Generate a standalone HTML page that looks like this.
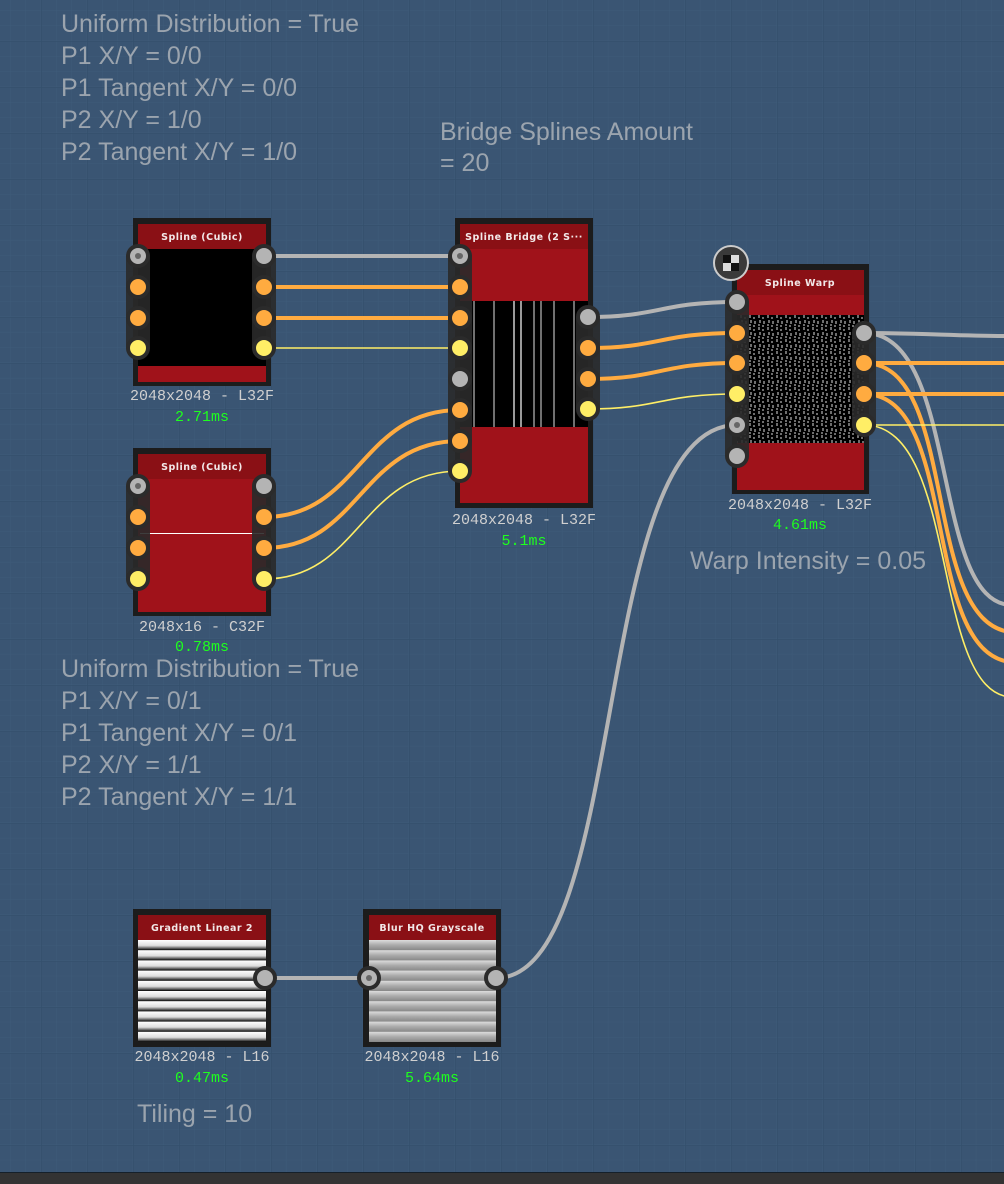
<!DOCTYPE html>
<html><head><meta charset="utf-8"><style>
html,body{margin:0;padding:0;background:#3a5573;}
svg{display:block}
.ann{font-family:"Liberation Sans",sans-serif;font-size:25px;fill:#9ba4ae;}
.ttl{font-family:"DejaVu Sans",sans-serif;font-size:9.5px;font-weight:bold;fill:#f2e8e8;text-anchor:middle;letter-spacing:0.5px}
.sz{font-family:"Liberation Mono",monospace;font-size:15px;fill:#d0d0d0;text-anchor:middle}
.ms{font-family:"Liberation Mono",monospace;font-size:15px;fill:#1eff1e;text-anchor:middle}
</style></head><body>
<svg width="1004" height="1184" viewBox="0 0 1004 1184" xmlns="http://www.w3.org/2000/svg">
<defs>
<pattern id="minor" width="15.33" height="15.33" patternUnits="userSpaceOnUse" x="10" y="10">
<path d="M0 0H15.33M0 0V15.33" stroke="#3e5b79" stroke-width="1" fill="none"/>
</pattern>
<pattern id="major" width="46" height="46" patternUnits="userSpaceOnUse" x="41" y="41">
<path d="M0 0H46M0 0V46" stroke="#34506d" stroke-width="1.5" fill="none"/>
</pattern>
<pattern id="stripes" width="10" height="10.2" patternUnits="userSpaceOnUse" y="940">
<linearGradient id="sg" x1="0" y1="0" x2="0" y2="1"><stop offset="0" stop-color="#fff"/><stop offset="0.55" stop-color="#ddd"/><stop offset="0.8" stop-color="#666"/><stop offset="1" stop-color="#000"/></linearGradient>
<rect width="10" height="10.2" fill="url(#sg)"/>
</pattern>
<pattern id="blur" width="10" height="10.2" patternUnits="userSpaceOnUse" y="940">
<linearGradient id="bg2" x1="0" y1="0" x2="0" y2="1"><stop offset="0" stop-color="#ddd"/><stop offset="0.5" stop-color="#aaa"/><stop offset="1" stop-color="#888"/></linearGradient>
<rect width="10" height="10.2" fill="url(#bg2)"/>
</pattern>
<pattern id="noise" width="9" height="12" patternUnits="userSpaceOnUse" x="748" y="315">
<rect width="9" height="12" fill="#000"/>
<path d="M2 0v3M3 5v3M2 9v2M6 2v2M7 6v3M6 10v2" stroke="#ddd" stroke-width="1"/>
</pattern>
</defs>
<rect width="1004" height="1184" fill="#3a5573"/>
<rect width="1004" height="1173" fill="url(#minor)"/>
<rect width="1004" height="1173" fill="url(#major)"/>
<rect y="1172" width="1004" height="12" fill="#333"/>
<rect y="1172" width="1004" height="1" fill="#15202a"/>

<g class="ann">
<text x="61" y="32">Uniform Distribution = True</text>
<text x="61" y="64">P1 X/Y = 0/0</text>
<text x="61" y="96">P1 Tangent X/Y = 0/0</text>
<text x="61" y="128">P2 X/Y = 1/0</text>
<text x="61" y="160">P2 Tangent X/Y = 1/0</text>
<text x="440" y="140">Bridge Splines Amount</text>
<text x="440" y="171">= 20</text>
<text x="61" y="677">Uniform Distribution = True</text>
<text x="61" y="709">P1 X/Y = 0/1</text>
<text x="61" y="741">P1 Tangent X/Y = 0/1</text>
<text x="61" y="773">P2 X/Y = 1/1</text>
<text x="61" y="805">P2 Tangent X/Y = 1/1</text>
<text x="690" y="569">Warp Intensity = 0.05</text>
<text x="137" y="1122">Tiling = 10</text>
</g>

<g fill="none" stroke-linecap="round">
<path d="M264 256H460" stroke="#b4b4b4" stroke-width="4"/>
<path d="M264 287H460M264 318H460" stroke="#ffab40" stroke-width="4"/>
<path d="M264 348H460" stroke="#ffee66" stroke-width="1.6"/>
<path d="M264 517C360 517 360 410 460 410M264 548C360 548 360 441 460 441" stroke="#ffab40" stroke-width="4"/>
<path d="M264 579C360 579 360 471 460 471" stroke="#ffee66" stroke-width="1.6"/>
<path d="M588 317C660 317 660 302 737 302" stroke="#b4b4b4" stroke-width="4"/>
<path d="M588 348C660 348 660 333 737 333M588 379C660 379 660 363 737 363" stroke="#ffab40" stroke-width="4"/>
<path d="M588 409C660 409 660 394 737 394" stroke="#ffee66" stroke-width="1.6"/>
<path d="M496 978C630 978 590 425 737 425" stroke="#b4b4b4" stroke-width="4"/>
<path d="M265 978H369" stroke="#b4b4b4" stroke-width="4"/>
<path d="M864 333C920 333 960 336 1010 336" stroke="#b4b4b4" stroke-width="4"/>
<path d="M864 333C960 333 930 600 1010 605" stroke="#b4b4b4" stroke-width="4"/>
<path d="M864 363H1010M864 394H1010" stroke="#ffab40" stroke-width="4"/>
<path d="M864 363C960 363 920 620 1010 632M864 394C960 394 920 650 1010 662" stroke="#ffab40" stroke-width="4"/>
<path d="M864 425H1010" stroke="#ffee66" stroke-width="1.6"/>
<path d="M864 425C960 425 930 690 1010 697" stroke="#ffee66" stroke-width="1.6"/>
</g>

<rect x="133" y="218" width="138" height="168" fill="#1c1c1c"/>
<rect x="138" y="224" width="128" height="25" fill="#8a1015"/>
<text class="ttl" x="202" y="240">Spline (Cubic)</text>
<rect x="138" y="249" width="128" height="117" fill="#000"/>
<rect x="138" y="366" width="128" height="16" fill="#a0121a"/>
<text class="sz" x="202" y="400">2048x2048 - L32F</text>
<text class="ms" x="202" y="421">2.71ms</text>

<rect x="133" y="448" width="138" height="168" fill="#1c1c1c"/>
<rect x="138" y="454" width="128" height="25" fill="#8a1015"/>
<text class="ttl" x="202" y="470">Spline (Cubic)</text>
<rect x="138" y="479" width="128" height="133" fill="#a0121a"/>
<rect x="140" y="533" width="124" height="1" fill="#fff"/>
<text class="sz" x="202" y="631">2048x16 - C32F</text>
<text class="ms" x="202" y="651">0.78ms</text>

<rect x="455" y="218" width="138" height="290" fill="#1c1c1c"/>
<rect x="460" y="224" width="128" height="25" fill="#8a1015"/>
<text class="ttl" x="524" y="240">Spline Bridge (2 S···</text>
<rect x="460" y="249" width="128" height="52" fill="#a0121a"/>
<rect x="460" y="301" width="128" height="126" fill="#000"/>
<g stroke-width="1.2">
<path d="M474 301V427M494 301V427M534 301V427M541 301V427M554 301V427M574 301V427" stroke="#bbb"/>
<path d="M514 301V427M521 301V427" stroke="#fff"/>
</g>
<rect x="460" y="427" width="128" height="76" fill="#a0121a"/>
<text class="sz" x="524" y="524">2048x2048 - L32F</text>
<text class="ms" x="524" y="545">5.1ms</text>

<rect x="732" y="264" width="137" height="230" fill="#1c1c1c"/>
<rect x="737" y="270" width="127" height="25" fill="#8a1015"/>
<text class="ttl" x="800" y="286">Spline Warp</text>
<rect x="737" y="295" width="127" height="20" fill="#a0121a"/>
<rect x="737" y="315" width="127" height="128" fill="url(#noise)"/>
<rect x="737" y="443" width="127" height="47" fill="#a0121a"/>
<text class="sz" x="800" y="509">2048x2048 - L32F</text>
<text class="ms" x="800" y="529">4.61ms</text>
<circle cx="731" cy="263" r="17" fill="#3a3a3a" stroke="#ccc" stroke-width="2"/>
<rect x="723" y="255" width="16" height="16" fill="#ddd"/>
<rect x="723" y="255" width="8" height="8" fill="#111"/>
<rect x="731" y="263" width="8" height="8" fill="#111"/>

<rect x="133" y="909" width="138" height="138" fill="#1c1c1c"/>
<rect x="138" y="915" width="128" height="25" fill="#8a1015"/>
<text class="ttl" x="202" y="931">Gradient Linear 2</text>
<rect x="138" y="940" width="128" height="102" fill="url(#stripes)"/>
<text class="sz" x="202" y="1061">2048x2048 - L16</text>
<text class="ms" x="202" y="1082">0.47ms</text>

<rect x="363" y="909" width="138" height="138" fill="#1c1c1c"/>
<rect x="369" y="915" width="127" height="25" fill="#8a1015"/>
<text class="ttl" x="432" y="931">Blur HQ Grayscale</text>
<rect x="369" y="940" width="127" height="102" fill="url(#blur)"/>
<text class="sz" x="432" y="1061">2048x2048 - L16</text>
<text class="ms" x="432" y="1082">5.64ms</text>

<g fill="#2a2a2a" opacity="0.9">
<rect x="126" y="246" width="24" height="112" rx="12"/>
<rect x="252" y="246" width="24" height="112" rx="12"/>
<rect x="126" y="476" width="24" height="113" rx="12"/>
<rect x="252" y="476" width="24" height="113" rx="12"/>
<rect x="448" y="246" width="24" height="235" rx="12"/>
<rect x="576" y="307" width="24" height="112" rx="12"/>
<rect x="725" y="292" width="24" height="174" rx="12"/>
<rect x="852" y="323" width="24" height="112" rx="12"/>
</g>

<g stroke="#2b2b2b" stroke-width="4">
<g fill="#b4b4b4">
<circle cx="138" cy="256" r="10"/><circle cx="264" cy="256" r="10"/>
<circle cx="138" cy="486" r="10"/><circle cx="264" cy="486" r="10"/>
<circle cx="460" cy="256" r="10"/><circle cx="460" cy="379" r="10"/><circle cx="588" cy="317" r="10"/>
<circle cx="737" cy="302" r="10"/><circle cx="737" cy="425" r="10"/><circle cx="737" cy="456" r="10"/><circle cx="864" cy="333" r="10"/>
<circle cx="265" cy="978" r="10"/><circle cx="369" cy="978" r="10"/><circle cx="496" cy="978" r="10"/>
</g>
<g fill="#ffab40">
<circle cx="138" cy="287" r="10"/><circle cx="138" cy="318" r="10"/><circle cx="264" cy="287" r="10"/><circle cx="264" cy="318" r="10"/>
<circle cx="138" cy="517" r="10"/><circle cx="138" cy="548" r="10"/><circle cx="264" cy="517" r="10"/><circle cx="264" cy="548" r="10"/>
<circle cx="460" cy="287" r="10"/><circle cx="460" cy="318" r="10"/><circle cx="460" cy="410" r="10"/><circle cx="460" cy="441" r="10"/>
<circle cx="588" cy="348" r="10"/><circle cx="588" cy="379" r="10"/>
<circle cx="737" cy="333" r="10"/><circle cx="737" cy="363" r="10"/><circle cx="864" cy="363" r="10"/><circle cx="864" cy="394" r="10"/>
</g>
<g fill="#ffee66">
<circle cx="138" cy="348" r="10"/><circle cx="264" cy="348" r="10"/>
<circle cx="138" cy="579" r="10"/><circle cx="264" cy="579" r="10"/>
<circle cx="460" cy="348" r="10"/><circle cx="460" cy="471" r="10"/><circle cx="588" cy="409" r="10"/>
<circle cx="737" cy="394" r="10"/><circle cx="864" cy="425" r="10"/>
</g>
</g>
<g fill="#666">
<circle cx="138" cy="256" r="3"/><circle cx="138" cy="486" r="3"/><circle cx="460" cy="256" r="3"/><circle cx="737" cy="425" r="3"/><circle cx="369" cy="978" r="3"/>
</g>
</svg>
</body></html>
